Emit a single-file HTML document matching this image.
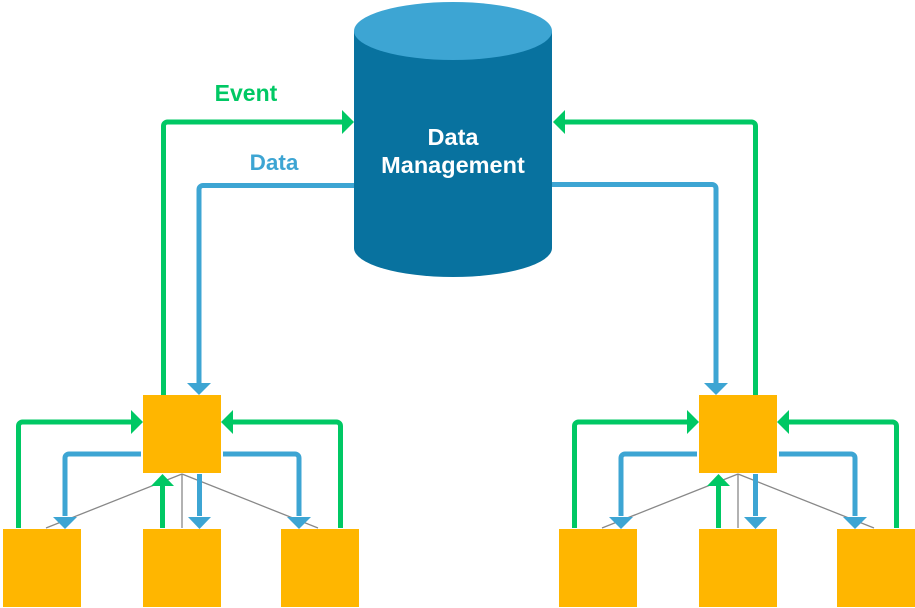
<!DOCTYPE html>
<html><head><meta charset="utf-8"><style>
html,body{margin:0;padding:0;background:#fff;width:915px;height:608px;overflow:hidden}
</style></head><body>
<svg width="915" height="608" viewBox="0 0 915 608" xmlns="http://www.w3.org/2000/svg" font-family="Liberation Sans, sans-serif" font-weight="bold">
<defs>
<g id="clus">
  <line x1="182" y1="474" x2="46" y2="528" stroke="#888" stroke-width="1.3"/>
  <line x1="182" y1="474" x2="182" y2="528" stroke="#888" stroke-width="1.3"/>
  <line x1="182" y1="474" x2="318" y2="528" stroke="#888" stroke-width="1.3"/>
  <rect x="143" y="395" width="78" height="78" fill="#FFB600"/>
  <rect x="3" y="529" width="78" height="78" fill="#FFB600"/>
  <rect x="143" y="529" width="78" height="78" fill="#FFB600"/>
  <rect x="281" y="529" width="78" height="78" fill="#FFB600"/>
  <g fill="none" stroke-width="5">
    <path d="M18.5 528 V426 a4 4 0 0 1 4 -4 H131" stroke="#00C864"/>
    <path d="M340.5 528 V426 a4 4 0 0 0 -4 -4 H233" stroke="#00C864"/>
    <path d="M162.5 528 V486" stroke="#00C864"/>
    <path d="M141 454 H69 a4 4 0 0 0 -4 4 V516" stroke="#3DA5D3"/>
    <path d="M223 454 H295 a4 4 0 0 1 4 4 V516" stroke="#3DA5D3"/>
    <path d="M199.5 474 V516" stroke="#3DA5D3"/>
  </g>
  <polygon points="143,422 131,410 131,434" fill="#00C864"/>
  <polygon points="221,422 233,410 233,434" fill="#00C864"/>
  <polygon points="162.5,474 151,486 174,486" fill="#00C864"/>
  <polygon points="65,529 53,517 77,517" fill="#3DA5D3"/>
  <polygon points="299,529 287,517 311,517" fill="#3DA5D3"/>
  <polygon points="199.5,529 188,517 211,517" fill="#3DA5D3"/>
</g>
</defs>
<use href="#clus"/>
<use href="#clus" transform="translate(556,0)"/>
<g fill="none" stroke-width="5">
  <path d="M163.5 395 V126 a4 4 0 0 1 4 -4 H342" stroke="#00C864"/>
  <path d="M356 185.5 H203 a4 4 0 0 0 -4 4 V383" stroke="#3DA5D3"/>
  <path d="M755.5 395 V126 a4 4 0 0 0 -4 -4 H565" stroke="#00C864"/>
  <path d="M552 184.5 H712 a4 4 0 0 1 4 4 V383" stroke="#3DA5D3"/>
</g>
<polygon points="354,122 342,110 342,134" fill="#00C864"/>
<polygon points="553,122 565,110 565,134" fill="#00C864"/>
<polygon points="199,395 187,383 211,383" fill="#3DA5D3"/>
<polygon points="716,395 704,383 728,383" fill="#3DA5D3"/>
<path d="M354 31 V248 A99 29 0 0 0 552 248 V31 Z" fill="#08729F"/>
<ellipse cx="453" cy="31" rx="99" ry="29" fill="#3DA5D3"/>
<text x="453" y="145" fill="#fff" font-size="23.5" text-anchor="middle">Data</text>
<text x="453" y="173" fill="#fff" font-size="23.5" text-anchor="middle">Management</text>
<text x="246" y="101" fill="#00C864" font-size="23" text-anchor="middle">Event</text>
<text x="274" y="170" fill="#3DA5D3" font-size="22.5" text-anchor="middle">Data</text>
</svg>
</body></html>
